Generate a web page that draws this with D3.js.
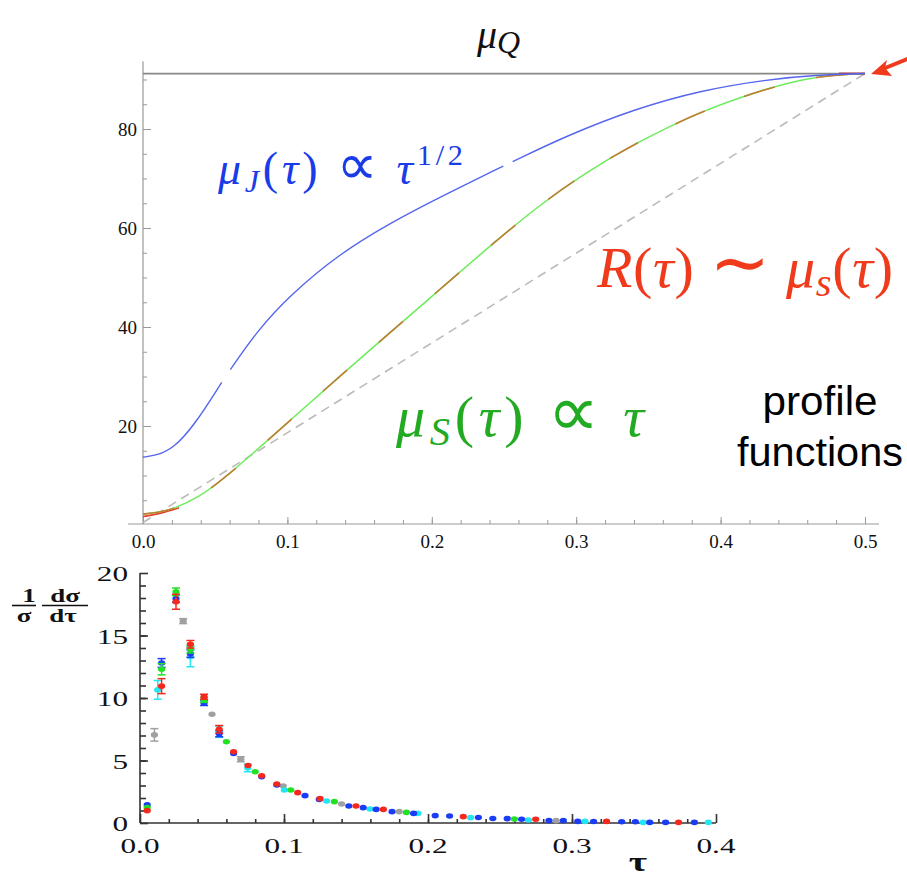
<!DOCTYPE html>
<html>
<head>
<meta charset="utf-8">
<script src="https://cdn.jsdelivr.net/npm/d3@7"></script>
<style>
  body { margin: 0; background: #fff; }
  svg { display: block; }
  .serif { font-family: "Liberation Serif", "Times New Roman", serif; }
</style>
</head>
<body>
<svg id="chart" width="907" height="878"></svg>
<script>
// ---- top panel: profile functions (tau, mu) ----
const MU_Q = 91.2;
const topTauTicks = [0, 0.1, 0.2, 0.3, 0.4, 0.5];
const topMuTicks = [20, 40, 60, 80];

const muJet = [[0, 13.7], [0.01, 14.1], [0.021, 15.5], [0.035, 19.9], [0.0545, 28.8],
  [0.0605, 31.4], [0.079, 39.2], [0.102, 46.5], [0.136, 54.8], [0.171, 61.0], [0.206, 66.3],
  [0.2495, 72.5], [0.256, 73.4], [0.293, 78.6], [0.34, 84.0], [0.386, 87.8], [0.432, 90.0],
  [0.466, 90.9], [0.5, 91.2]];
const jetGapStarts = [0.0545, 0.2495];

const muSoft = [[0, 2.2], [0.01, 2.5], [0.021, 3.2], [0.0395, 5.8], [0.0545, 9.0], [0.079, 15.2],
  [0.0995, 20.5], [0.136, 30.0], [0.178, 40.6], [0.217, 50.5], [0.249, 58.5], [0.275, 64.7],
  [0.305, 70.9], [0.34, 77.0], [0.386, 83.6], [0.432, 88.2], [0.46, 90.2], [0.478, 90.9], [0.5, 91.2]];
const muSoftRedStart = [[0, 1.7], [0.012, 2.3], [0.025, 3.5]];
const muSoftRedEnd = [[0.482, 91.2], [0.5, 91.2]];
const muLinear = [[0, 0.5], [0.5, 91.2]];

// ---- bottom panel: thrust distribution [tau, value, err] ----
const botTauTicks = [0, 0.1, 0.2, 0.3, 0.4];
const botValTicks = [0, 5, 10, 15, 20];

const grayData = [[0.01, 7.05, 0.5], [0.03, 16.15, 0.2], [0.05, 8.7, 0.15], [0.07, 5.1, 0.2],
  [0.0995, 2.96, 0.15], [0.14, 1.52, 0.1], [0.18, 0.91, 0.1], [0.289, 0.19, 0.05]];
const cyanData = [[0.0123, 10.65, 0.75], [0.035, 13.3, 0.8], [0.055, 7.3, 0.45], [0.0748, 4.4, 0.3],
  [0.1002, 2.64, 0.15], [0.1296, 1.76, 0.1], [0.1597, 1.12, 0.08], [0.193, 0.77, 0.05],
  [0.2296, 0.43, 0.04], [0.2697, 0.24, 0.03], [0.309, 0.13, 0.02], [0.3495, 0.05, 0.02], [0.3947, 0.05, 0.02]];
const blueData = [[0.005, 1.45, 0.15], [0.015, 12.8, 0.35], [0.025, 17.95, 0.3], [0.035, 13.55, 0.3],
  [0.0445, 9.6, 0.2], [0.055, 7.15, 0.25], [0.065, 5.57, 0.15], [0.0845, 3.7, 0.1], [0.095, 3.05, 0.1],
  [0.1146, 2.19, 0.08], [0.1245, 1.89, 0.08], [0.145, 1.36, 0.06], [0.155, 1.23, 0.05], [0.164, 1.09, 0.05],
  [0.175, 0.91, 0.05], [0.19, 0.77, 0.05], [0.205, 0.59, 0.04], [0.215, 0.56, 0.04], [0.235, 0.44, 0.03],
  [0.245, 0.36, 0.03], [0.255, 0.35, 0.03], [0.265, 0.3, 0.03], [0.284, 0.19, 0.02], [0.294, 0.19, 0.02],
  [0.304, 0.13, 0.02], [0.315, 0.12, 0.02], [0.3345, 0.1, 0.02], [0.344, 0.1, 0.02], [0.354, 0.05, 0.02],
  [0.365, 0.05, 0.02], [0.385, 0.05, 0.02]];
const greenData = [[0.005, 1.23, 0.15], [0.015, 12.3, 0.45], [0.025, 18.5, 0.3], [0.035, 13.9, 0.3],
  [0.0445, 9.85, 0.2], [0.06, 6.5, 0.1], [0.08, 4.1, 0.1], [0.1047, 2.64, 0.08], [0.135, 1.71, 0.06],
  [0.185, 0.85, 0.05], [0.26, 0.32, 0.03]];
const redData = [[0.005, 0.99, 0.15], [0.015, 10.95, 0.6], [0.025, 17.7, 0.6], [0.035, 14.3, 0.3],
  [0.0445, 10.1, 0.2], [0.055, 7.5, 0.3], [0.065, 5.7, 0.15], [0.075, 4.6, 0.15], [0.0845, 3.78, 0.1],
  [0.095, 3.12, 0.1], [0.1095, 2.43, 0.08], [0.125, 1.95, 0.06], [0.15, 1.36, 0.05], [0.169, 1.09, 0.05],
  [0.2245, 0.51, 0.04], [0.2748, 0.3, 0.03], [0.324, 0.13, 0.02], [0.374, 0.05, 0.02]];

const svg = d3.select('#chart');

// ================= top panel =================
const xTop = d3.scaleLinear().domain([0, 0.5]).range([143, 865]);
const yTop = d3.scaleLinear().domain([0, 90]).range([525, 79.5]);
const topG = svg.append('g');

// axes lines
topG.append('line').attr('x1', xTop(-0.0104)).attr('x2', xTop(0.5097))
  .attr('y1', 524).attr('y2', 524).attr('stroke', '#999').attr('stroke-width', 1.2);
topG.append('line').attr('x1', 143).attr('x2', 143)
  .attr('y1', 524).attr('y2', yTop(93.7)).attr('stroke', '#999').attr('stroke-width', 1.2);

const topXMajor = d3.axisBottom(xTop).tickValues(topTauTicks).tickSizeInner(-7).tickPadding(11)
  .tickFormat(d3.format('.1f'));
const topXMinor = d3.axisBottom(xTop).tickValues(d3.range(0, 0.501, 0.02)).tickSizeInner(-4).tickFormat('');
const topYMajor = d3.axisLeft(yTop).tickValues(topMuTicks).tickSizeInner(-8).tickPadding(6);
const topYMinor = d3.axisLeft(yTop).tickValues(d3.range(5, 91, 5)).tickSizeInner(-4).tickFormat('');

[[topXMinor, 'translate(0,524)'], [topXMajor, 'translate(0,524)'],
 [topYMinor, 'translate(143,0)'], [topYMajor, 'translate(143,0)']].forEach(([ax, tr]) => {
  const g = topG.append('g').attr('transform', tr).call(ax);
  g.select('.domain').remove();
  g.selectAll('line').attr('stroke', '#999');
  g.selectAll('text').attr('class', 'serif').attr('font-size', 19).attr('fill', '#111');
});

const lineTop = d3.line().x(d => xTop(d[0])).y(d => yTop(d[1])).curve(d3.curveBasis);

// linear reference (dashed gray)
topG.append('path').attr('d', lineTop(muLinear)).attr('fill', 'none')
  .attr('stroke', '#bbb').attr('stroke-width', 1.6).attr('stroke-dasharray', '9 6');
// mu_Q horizontal line
topG.append('path').attr('d', lineTop([[0, MU_Q], [0.5, MU_Q]])).attr('fill', 'none')
  .attr('stroke', '#888').attr('stroke-width', 1.8);

// soft scale: green solid + brown dashes
topG.append('path').attr('d', lineTop(muSoftRedStart)).attr('fill', 'none')
  .attr('stroke', '#e8402a').attr('stroke-width', 1.6);
topG.append('path').attr('d', lineTop(muSoft)).attr('fill', 'none')
  .attr('stroke', '#6cec5a').attr('stroke-width', 1.5);
topG.append('path').attr('d', lineTop(muSoft)).attr('fill', 'none')
  .attr('stroke', '#c27c34').attr('stroke-width', 1.6)
  .attr('stroke-dasharray', '32 42').attr('stroke-dashoffset', -74);
topG.append('path').attr('d', lineTop(muSoftRedEnd)).attr('fill', 'none')
  .attr('stroke', '#b03848').attr('stroke-width', 2);

// jet scale: blue, split at its small gaps
const jetPieces = [];
let cur = [];
muJet.forEach(p => {
  cur.push(p);
  if (jetGapStarts.includes(p[0])) { jetPieces.push(cur); cur = []; }
});
jetPieces.push(cur);
topG.selectAll('path.jet').data(jetPieces).enter().append('path').attr('class', 'jet')
  .attr('d', lineTop).attr('fill', 'none').attr('stroke', '#5566ee').attr('stroke-width', 1.4);

// annotations
const muQText = topG.append('text').attr('class', 'serif').attr('x', 477).attr('y', 48).attr('fill', '#111');
muQText.append('tspan').attr('font-style', 'italic').attr('font-size', 40).text('μ');
muQText.append('tspan').attr('font-style', 'italic').attr('font-size', 32).attr('dy', 5).text('Q');

function mathLabel(x, y, size, color, width, parts) {
  const t = topG.append('text').attr('class', 'serif').attr('x', x).attr('y', y)
    .attr('font-size', size).attr('fill', color)
    .attr('textLength', width).attr('lengthAdjust', 'spacing');
  parts.forEach(p => {
    const s = t.append('tspan').text(p.t);
    if (p.i) s.attr('font-style', 'italic');
    if (p.s) s.attr('font-size', size * p.s);
    if (p.dy) s.attr('dy', p.dy);
    if (p.f) s.attr('font-family', p.f);
  });
}
const SYM = 'DejaVu Sans, sans-serif';
mathLabel(218, 184, 46, '#1a3ce8', 245, [
  { t: 'μ', i: 1 }, { t: 'J', i: 1, s: 0.7, dy: 8 }, { t: '(', dy: -8 }, { t: 'τ', i: 1 }, { t: ') ' },
  { t: '∝', f: SYM, s: 1.25 }, { t: ' ' },
  { t: 'τ', i: 1 }, { t: '1/2', s: 0.66, dy: -19 }]);
mathLabel(597, 287, 58, '#f03a1c', 296, [
  { t: 'R', i: 1 }, { t: '(' }, { t: 'τ', i: 1 }, { t: ') ' }, { t: '∼', f: SYM, s: 1.25 }, { t: ' ' }, { t: 'μ', i: 1 },
  { t: 's', i: 1, s: 0.7, dy: 9 }, { t: '(', dy: -9 }, { t: 'τ', i: 1 }, { t: ')' }]);
mathLabel(396, 436, 58, '#22aa22', 248, [
  { t: 'μ', i: 1 }, { t: 'S', i: 1, s: 0.7, dy: 9 }, { t: '(', dy: -9 }, { t: 'τ', i: 1 }, { t: ') ' },
  { t: '∝', f: SYM, s: 1.25 }, { t: ' ' }, { t: 'τ', i: 1 }]);

topG.append('text').attr('x', 820).attr('y', 415).attr('text-anchor', 'middle')
  .attr('font-family', 'Liberation Sans, Arial, sans-serif').attr('font-size', 40).attr('fill', '#000')
  .attr('textLength', 115).attr('lengthAdjust', 'spacingAndGlyphs')
  .text('profile');
topG.append('text').attr('x', 820).attr('y', 466).attr('text-anchor', 'middle')
  .attr('font-family', 'Liberation Sans, Arial, sans-serif').attr('font-size', 40).attr('fill', '#000')
  .attr('textLength', 166).attr('lengthAdjust', 'spacingAndGlyphs')
  .text('functions');

// red arrow pointing at mu_Q endpoint
topG.append('line').attr('x1', 910).attr('y1', 58).attr('x2', 884).attr('y2', 68.5)
  .attr('stroke', '#f03a1c').attr('stroke-width', 4);
topG.append('path').attr('d', 'M871,74 L887,60 L885,68 L892,76 Z').attr('fill', '#f03a1c');

// ================= bottom panel =================
const xBot = d3.scaleLinear().domain([0, 0.4]).range([140, 716]);
const yBot = d3.scaleLinear().domain([0, 20]).range([823, 573]);
const bot = svg.append('g');
const AX = '#333';

bot.append('line').attr('x1', xBot(0)).attr('x2', xBot(0.4)).attr('y1', yBot(0)).attr('y2', yBot(0))
  .attr('stroke', AX).attr('stroke-width', 1.6);
bot.append('line').attr('x1', xBot(0)).attr('x2', xBot(0)).attr('y1', yBot(0)).attr('y2', yBot(20))
  .attr('stroke', AX).attr('stroke-width', 1.6);

const botXMajor = d3.axisBottom(xBot).tickValues(botTauTicks).tickSizeInner(-9).tickFormat('');
const botXMinor = d3.axisBottom(xBot).tickValues(d3.range(0.02, 0.4, 0.02)).tickSizeInner(-4).tickFormat('');
const botYMajor = d3.axisLeft(yBot).tickValues(botValTicks).tickSizeInner(-8).tickFormat('');
const botYMinor = d3.axisLeft(yBot).tickValues(d3.range(1, 20, 1)).tickSizeInner(-6).tickFormat('');
[[botXMinor, `translate(0,${yBot(0)})`], [botXMajor, `translate(0,${yBot(0)})`],
 [botYMinor, `translate(${xBot(0)},0)`], [botYMajor, `translate(${xBot(0)},0)`]].forEach(([ax, tr]) => {
  const g = bot.append('g').attr('transform', tr).call(ax);
  g.select('.domain').remove();
  g.selectAll('line').attr('stroke', AX).attr('stroke-width', 1.6);
});

// horizontally stretched serif labels
function wideText(x, y, str, size, anchor, weight) {
  return bot.append('text').attr('class', 'serif')
    .attr('transform', `translate(${x},${y}) scale(1.42,1)`)
    .attr('text-anchor', anchor).attr('font-size', size).attr('font-weight', weight || 'normal')
    .attr('fill', '#111').text(str);
}
botTauTicks.forEach(t => wideText(xBot(t), 853, d3.format('.1f')(t), 22, 'middle'));
botValTicks.forEach(v => wideText(128, yBot(v) + 8, v, 22, 'end'));
wideText(638, 871, 'τ', 28, 'middle', 'bold');

// y label: (1/σ)(dσ/dτ)
wideText(29, 602, '1', 19, 'middle', 'bold');
wideText(24, 622, 'σ', 19, 'middle', 'bold');
wideText(65, 602, 'dσ', 19, 'middle', 'bold');
wideText(63, 622, 'dτ', 19, 'middle', 'bold');
bot.append('line').attr('x1', 12).attr('x2', 36).attr('y1', 605.5).attr('y2', 605.5).attr('stroke', '#111').attr('stroke-width', 1.6);
bot.append('line').attr('x1', 42).attr('x2', 88).attr('y1', 605.5).attr('y2', 605.5).attr('stroke', '#111').attr('stroke-width', 1.6);

// data with error bars
const series = [
  { data: grayData, color: '#a0a0a0' },
  { data: cyanData, color: '#22e6f2' },
  { data: blueData, color: '#1a3cf5' },
  { data: greenData, color: '#22e022' },
  { data: redData, color: '#f5281e' }
];
series.forEach(s => {
  const g = bot.append('g').attr('stroke', s.color).attr('fill', s.color);
  const pts = g.selectAll('g').data(s.data).enter().append('g');
  pts.filter(d => yBot(d[1] - d[2]) - yBot(d[1] + d[2]) > 4).each(function (d) {
    const p = d3.select(this);
    const x = xBot(d[0]), y1 = yBot(d[1] + d[2]), y2 = yBot(d[1] - d[2]);
    p.append('line').attr('x1', x).attr('x2', x).attr('y1', y1).attr('y2', y2).attr('stroke-width', 1.5);
    p.append('line').attr('x1', x - 4).attr('x2', x + 4).attr('y1', y1).attr('y2', y1).attr('stroke-width', 1.5);
    p.append('line').attr('x1', x - 4).attr('x2', x + 4).attr('y1', y2).attr('y2', y2).attr('stroke-width', 1.5);
  });
  pts.append('ellipse').attr('cx', d => xBot(d[0])).attr('cy', d => yBot(d[1]))
    .attr('rx', 3.6).attr('ry', 2.8).attr('stroke', 'none');
});
</script>
</body>
</html>
